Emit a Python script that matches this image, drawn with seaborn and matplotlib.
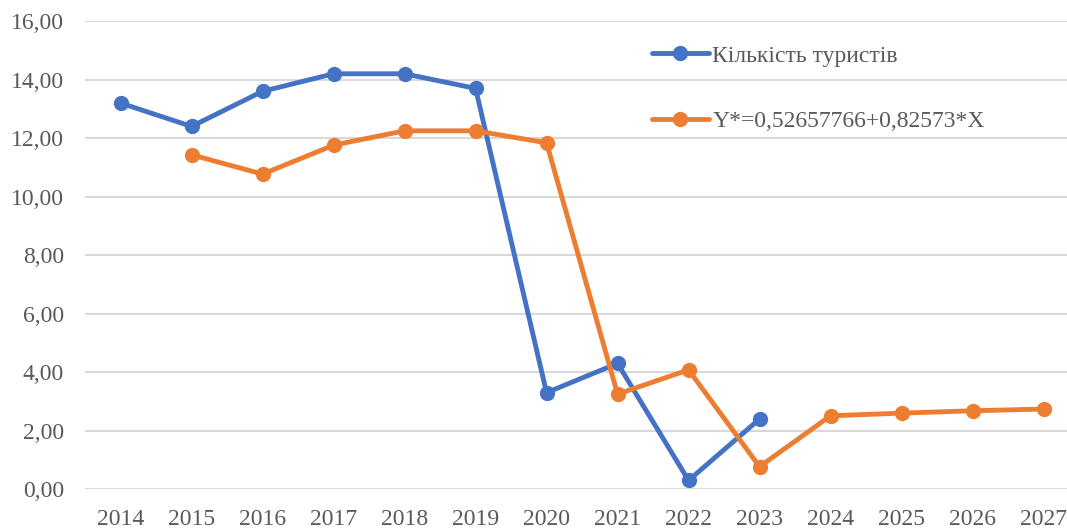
import pandas as pd
import matplotlib.pyplot as plt
import seaborn as sns

# Values
years = list(range(2014, 2028))
tourists_years = list(range(2014, 2024))
tourists = [13.2, 12.4, 13.6, 14.2, 14.2, 13.7, 3.3, 4.3, 0.3, 2.4]
model_years = list(range(2015, 2028))
model = [11.43, 10.77, 11.76, 12.25, 12.25, 11.84, 3.25, 4.08, 0.77, 2.51, 2.60, 2.68, 2.74]

label_tourists = 'Кількість туристів'
label_model = 'Y*=0,52657766+0,82573*X'

df_t = pd.DataFrame({'year': tourists_years, 'value': tourists})
df_m = pd.DataFrame({'year': model_years, 'value': model})

sns.set_style('white')
plt.rcParams['font.family'] = ['Liberation Serif', 'DejaVu Serif']

fig = plt.figure(figsize=(10.67, 5.28), dpi=100)
# plot area runs a little past the right edge, as in the original
ax = fig.add_axes([0.0797, 0.0735, 0.9316, 0.8865])

grey = '#595959'
sns.lineplot(data=df_t, x='year', y='value', ax=ax, color='#4472C4', linewidth=3.5,
             marker='o', markersize=11, markeredgewidth=0, label=label_tourists)
sns.lineplot(data=df_m, x='year', y='value', ax=ax, color='#ED7D31', linewidth=3.5,
             marker='o', markersize=11, markeredgewidth=0, label=label_model)

ax.set_xlim(2013.5, 2027.5)
ax.set_ylim(0, 16)
ax.set_xticks(years)
ax.set_xticklabels([str(y) for y in years])
ax.set_yticks(range(0, 17, 2))
ax.set_yticklabels([f'{v:.2f}'.replace('.', ',') for v in range(0, 17, 2)])
ax.tick_params(axis='both', labelsize=17, colors=grey, length=0)
ax.tick_params(axis='x', pad=14)
ax.tick_params(axis='y', pad=15)
ax.set_xlabel('')
ax.set_ylabel('')
ax.grid(axis='y', color='#D9D9D9', linewidth=1.5)
ax.set_axisbelow(True)
for s in ax.spines.values():
    s.set_visible(False)

leg = ax.legend(loc='upper left', bbox_to_anchor=(0.549, 0.994), frameon=False,
                fontsize=17, labelspacing=1.85, handlelength=2.4, handletextpad=0.15,
                labelcolor=grey)

fig.savefig('out.png', dpi=100)
